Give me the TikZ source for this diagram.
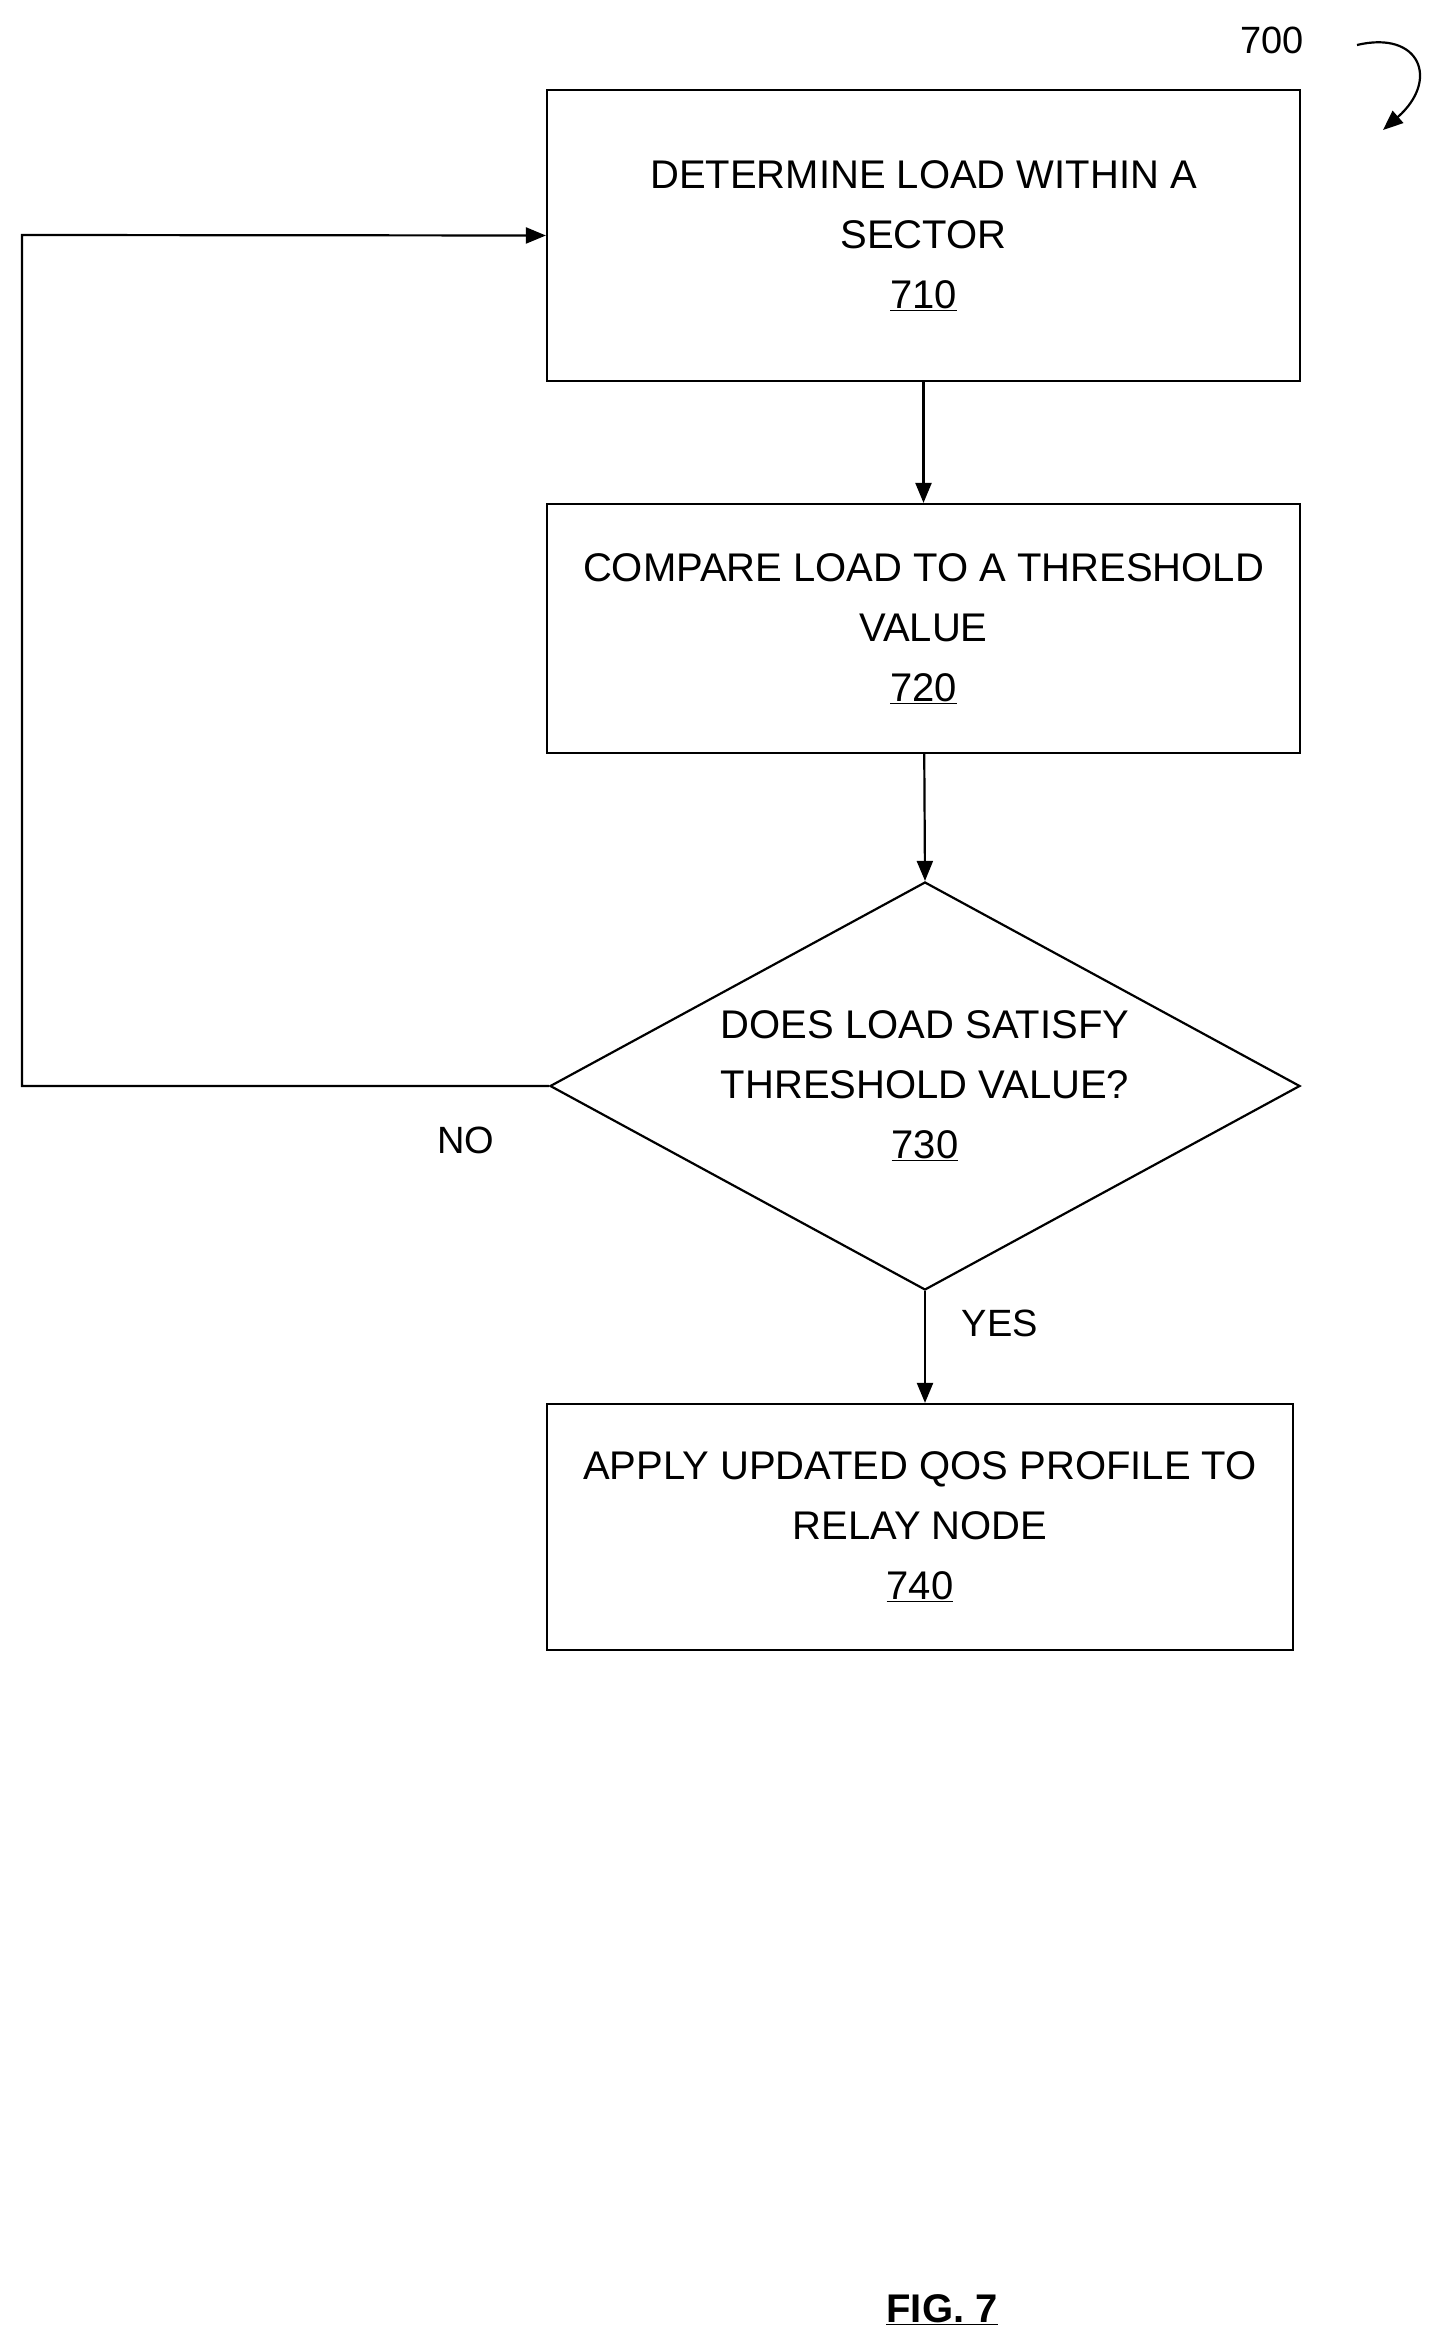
\documentclass[tikz,border=0pt]{standalone}
\usepackage{fontspec}
\setmainfont{Liberation Sans}
\usetikzlibrary{arrows.meta,shapes.geometric}
\begin{document}
\begin{tikzpicture}[x=1pt,y=-1pt,
  box/.style={draw,line width=2.2pt,align=center,inner sep=0pt,font=\fontsize{40}{60}\selectfont},
  arr/.style={line width=2.2pt,-{Triangle[length=20pt,width=16pt]}},
  lbl/.style={font=\fontsize{38}{46}\selectfont}]
\useasboundingbox (0,0) rectangle (1448,2349);
\node[box,minimum width=753pt,minimum height=291pt] (b1) at (923.5,235.5) {DETERMINE LOAD WITHIN A\\SECTOR\\\underline{710}};
\node[box,minimum width=753pt,minimum height=249pt] (b2) at (923.5,628.5) {COMPARE LOAD TO A THRESHOLD\\VALUE\\\underline{720}};
\node[draw,line width=2.2pt,diamond,aspect=1.838,minimum width=750pt,minimum height=408pt,inner sep=0pt] (d) at (925,1086) {};
\node[align=center,font=\fontsize{40}{60}\selectfont] (dt) at (d.center) {DOES LOAD SATISFY\\THRESHOLD VALUE?\\\underline{730}};
\node[box,minimum width=746pt,minimum height=246pt] (b4) at (920,1527) {APPLY UPDATED QOS PROFILE TO\\RELAY NODE\\\underline{740}};
\coordinate (l1) at (22,1086);
\coordinate (l2) at (22,235);
\draw[arr] (b1) -- (b2);
\draw[arr] (b2) -- (d.north);
\draw[arr] (d.south) -- (d.south |- b4.north);
\draw[arr] (d.west) -- (l1) -- (l2) -- (b1.west);
\node[lbl] (no) at (466,1140) {NO};
\node[lbl] (yes) at (1000,1323) {YES};
\node[lbl] (n700) at (1272,40) {700};
\coordinate (c1) at (1357,45);
\coordinate (c2) at (1383,130);
\draw[arr] (c1) .. controls (1420,30) and (1440,80) .. (c2);
\node[font=\bfseries\fontsize{40}{48}\selectfont] (fig) at (942,2310) {\underline{FIG. 7}};
\end{tikzpicture}
\end{document}
